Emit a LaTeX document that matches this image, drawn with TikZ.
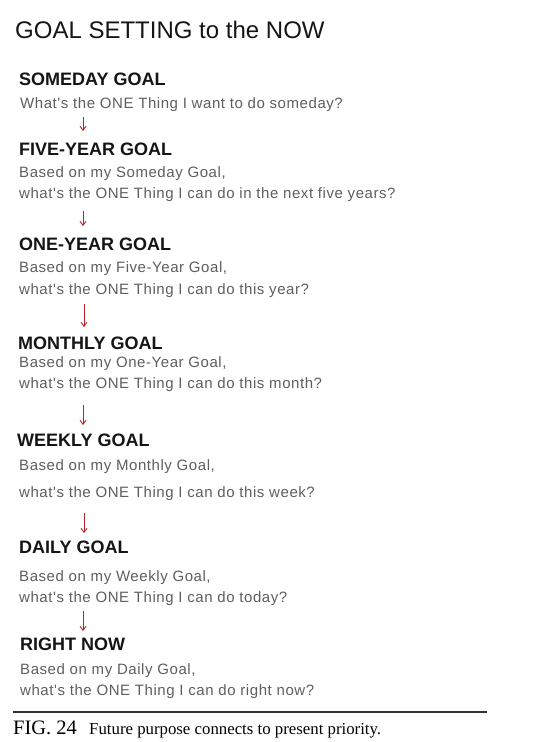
\documentclass[tikz,border=0pt]{standalone}
\usepackage{fontspec}
\setmainfont{Liberation Sans}
\newfontfamily\capfont{Liberation Serif}
\newfontfamily\bodyfont[LetterSpace=3.8]{Liberation Sans}
\usetikzlibrary{arrows.meta}
\definecolor{inkred}{HTML}{B8202A}
\definecolor{inkgray}{HTML}{5E5E5E}
\definecolor{inkblack}{HTML}{151515}
\tikzset{
  titletext/.style={anchor=base west,inner sep=0pt,text=inkblack,font=\fontsize{24}{28}\selectfont},
  headtext/.style={anchor=base west,inner sep=0pt,text=inkblack,font=\fontsize{18}{21}\selectfont\bfseries},
  bodytext/.style={anchor=base west,inner sep=0pt,text=inkgray,font=\bodyfont\fontsize{15}{18}\selectfont},
  arr/.style={draw=inkred,line width=0.9pt,-{Straight Barb[length=4pt,width=6pt]}},
  captext/.style={anchor=base west,inner sep=0pt,text=black}
}
\begin{document}
\begin{tikzpicture}[x=1pt,y=-1pt]
\useasboundingbox (0,0) rectangle (535,742);
\node[titletext] (title) at (15,38) {GOAL SETTING to the NOW};

\node[headtext] (h1) at (19,85) {SOMEDAY GOAL};
\node[bodytext] (q1) at (20,108) {What's the ONE Thing I want to do someday?};

\node[headtext] (h2) at (19,155) {FIVE-YEAR GOAL};
\node[bodytext] (b2) at (19,177) {Based on my Someday Goal,};
\node[bodytext] (q2) at (19,198) {what's the ONE Thing I can do in the next five years?};

\node[headtext] (h3) at (19,250) {ONE-YEAR GOAL};
\node[bodytext] (b3) at (19,272) {Based on my Five-Year Goal,};
\node[bodytext] (q3) at (19,294) {what's the ONE Thing I can do this year?};

\node[headtext] (h4) at (18,349) {MONTHLY GOAL};
\node[bodytext] (b4) at (19,367) {Based on my One-Year Goal,};
\node[bodytext] (q4) at (19,388) {what's the ONE Thing I can do this month?};

\node[headtext] (h5) at (17,446) {WEEKLY GOAL};
\node[bodytext] (b5) at (19,470) {Based on my Monthly Goal,};
\node[bodytext] (q5) at (19,497) {what's the ONE Thing I can do this week?};

\node[headtext] (h6) at (19,553) {DAILY GOAL};
\node[bodytext] (b6) at (19,581) {Based on my Weekly Goal,};
\node[bodytext] (q6) at (19,602) {what's the ONE Thing I can do today?};

\node[headtext] (h7) at (20,650) {RIGHT NOW};
\node[bodytext] (b7) at (20,674) {Based on my Daily Goal,};
\node[bodytext] (q7) at (20,695) {what's the ONE Thing I can do right now?};

% arrows
\coordinate (a1s) at (83,117); \coordinate (a1e) at (83,131);
\coordinate (a2s) at (83,211); \coordinate (a2e) at (83,226);
\coordinate (a3s) at (84,304); \coordinate (a3e) at (84,327);
\coordinate (a4s) at (83,405); \coordinate (a4e) at (83,425);
\coordinate (a5s) at (84,513); \coordinate (a5e) at (84,533);
\coordinate (a6s) at (83,611); \coordinate (a6e) at (83,631);
\draw[arr] (a1s) -- (a1e);
\draw[arr] (a2s) -- (a2e);
\draw[arr] (a3s) -- (a3e);
\draw[arr] (a4s) -- (a4e);
\draw[arr] (a5s) -- (a5e);
\draw[arr] (a6s) -- (a6e);

% caption
\coordinate (r1) at (13,712); \coordinate (r2) at (487,712);
\draw[line width=1.6pt,draw=black!80] (r1) -- (r2);
\node[captext,font=\capfont\fontsize{20.5}{24}\selectfont] (fig) at (13,734) {FIG. 24};
\node[captext,font=\capfont\fontsize{16.8}{19}\selectfont] (cap) at (89,734) {Future purpose connects to present priority.};
\end{tikzpicture}
\end{document}
